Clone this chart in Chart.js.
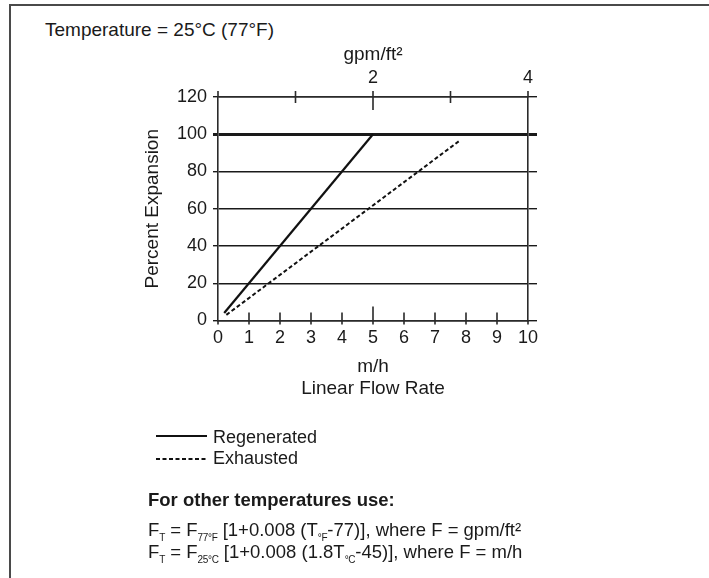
<!DOCTYPE html>
<html><head><meta charset="utf-8">
<script src="https://cdn.jsdelivr.net/npm/chart.js@4/dist/chart.umd.min.js"></script>
<style>
html,body{margin:0;padding:0;background:#fff;}
body{width:709px;height:578px;position:relative;overflow:hidden;font-family:"Liberation Sans",Arial,sans-serif;color:#1a1a1a;}
#frame{position:absolute;left:9px;top:4px;width:720px;height:600px;border-top:2.5px solid #4a4a4a;border-left:2.5px solid #4a4a4a;}
#wrap{position:absolute;left:0;top:0;width:709px;height:400px;}
.t{position:absolute;white-space:nowrap;line-height:22px;}
.s{font-size:10px;position:relative;top:5px;letter-spacing:-0.3px;}
#leg{position:absolute;left:0;top:0;}
</style></head>
<body>
<div id="frame"></div>
<div class="t" style="left:45px;top:19px;font-size:19px;">Temperature = 25°C (77°F)</div>
<div id="wrap"><canvas id="c"></canvas></div>
<svg id="leg" width="709" height="578">
  <line x1="156" y1="436" x2="207" y2="436" stroke="#111" stroke-width="2"/>
  <line x1="156" y1="459" x2="207" y2="459" stroke="#111" stroke-width="2" stroke-dasharray="4 2.5"/>
</svg>
<div class="t" style="left:213px;top:426px;font-size:18px;">Regenerated</div>
<div class="t" style="left:213px;top:447px;font-size:18px;">Exhausted</div>
<div class="t" style="left:148px;top:489px;font-size:18.5px;font-weight:bold;">For other temperatures use:</div>
<div class="t" style="left:148px;top:519px;font-size:18.5px;">F<span class="s">T</span> = F<span class="s">77°F</span> [1+0.008 (T<span class="s">°F</span>-77)], where F = gpm/ft²</div>
<div class="t" style="left:148px;top:541px;font-size:18.5px;">F<span class="s">T</span> = F<span class="s">25°C</span> [1+0.008 (1.8T<span class="s">°C</span>-45)], where F = m/h</div>
<script>
// ---- data ----
const flowMH = [0,1,2,3,4,5,6,7,8,9,10];          // bottom axis ticks (m/h)
const flowGPM = [0,1,2,3,4];                      // top axis ticks (gpm/ft²)
const flowGPMLabels = ['', '', '2', '', '4'];
const expansionTicks = [0,20,40,60,80,100,120];
const regenX = [0.2, 5.0];
const regenY = [4, 100];
const exhaustX = [0.27, 7.83];
const exhaustY = [3, 97];

const FONT = '"Liberation Sans", Arial, sans-serif';
const INK = '#1a1a1a';
const AX = '#2a2a2a';

const toPts = (xs, ys) => xs.map((x, i) => ({x, y: ys[i]}));

const crossTicks = {
  id: 'crossTicks',
  afterDraw(chart) {
    const {ctx, chartArea: a, scales} = chart;
    ctx.save();
    ctx.strokeStyle = AX;
    ctx.lineWidth = 1.6;
    ctx.beginPath();
    flowMH.forEach(v => {
      const px = scales.x.getPixelForValue(v);
      const up = v === 5 ? 14 : (v === 0 || v === 10 ? 0 : 8);
      ctx.moveTo(px, a.bottom - up);
      ctx.lineTo(px, a.bottom + 4);
    });
    flowGPM.forEach(v => {
      const px = scales.x2.getPixelForValue(v);
      const down = v === 2 ? 13 : (v === 0 || v === 4 ? 0 : 6);
      ctx.moveTo(px, a.top - 6);
      ctx.lineTo(px, a.top + down);
    });
    ctx.stroke();
    ctx.restore();
  }
};

const gridW = c => (c.tick && c.tick.value === 100) ? 3 : 1.4;

new Chart(document.getElementById('c'), {
  type: 'line',
  data: {
    datasets: [
      {label: 'Regenerated', data: toPts(regenX, regenY), xAxisID: 'x', yAxisID: 'y',
       borderColor: '#111', borderWidth: 2.2, pointRadius: 0, fill: false, tension: 0},
      {label: 'Exhausted', data: toPts(exhaustX, exhaustY), xAxisID: 'x', yAxisID: 'y',
       borderColor: '#111', borderWidth: 2, borderDash: [4, 2.5], pointRadius: 0, fill: false, tension: 0}
    ]
  },
  options: {
    responsive: true, maintainAspectRatio: false, animation: false, devicePixelRatio: 1,
    layout: {padding: {left: 140, right: 100, top: 36, bottom: 0}},
    plugins: {legend: {display: false}, tooltip: {enabled: false}},
    scales: {
      x: {
        type: 'linear', position: 'bottom', min: 0, max: 10,
        afterBuildTicks: s => { s.ticks = flowMH.map(v => ({value: v})); },
        ticks: {color: INK, font: {family: FONT, size: 18}, padding: 7, maxRotation: 0, autoSkip: false},
        grid: {display: false, drawTicks: false},
        border: {display: true, color: AX, width: 1.6},
        title: {display: true, text: ['m/h', 'Linear Flow Rate'], color: INK,
                font: {family: FONT, size: 19, lineHeight: 1.16}, padding: {top: 0, bottom: 0}},
        afterFit: s => { s.height = 79.5; }
      },
      x2: {
        type: 'linear', position: 'top', min: 0, max: 4,
        afterBuildTicks: s => { s.ticks = flowGPM.map(v => ({value: v})); },
        ticks: {color: INK, font: {family: FONT, size: 18}, padding: 8, maxRotation: 0, autoSkip: false,
                callback: (v, i) => flowGPMLabels[flowGPM.indexOf(v)] ?? ''},
        grid: {display: false, drawTicks: false},
        border: {display: true, color: AX, width: 1.6},
        title: {display: true, text: 'gpm/ft²', color: INK, font: {family: FONT, size: 19}, padding: {top: 7, bottom: 0}},
        afterFit: s => { s.height = 61; }
      },
      y: {
        type: 'linear', position: 'left', min: 0, max: 120,
        afterBuildTicks: s => { s.ticks = expansionTicks.map(v => ({value: v})); },
        ticks: {color: INK, font: {family: FONT, size: 18}, padding: 6},
        grid: {color: '#1a1a1a', lineWidth: gridW, drawTicks: true, tickLength: 5},
        border: {display: true, color: AX, width: 1.6},
        title: {display: true, text: 'Percent Expansion', color: INK, font: {family: FONT, size: 19}, padding: {top: 1, bottom: 0}},
        afterFit: s => { s.width = 78; }
      },
      y2: {
        type: 'linear', position: 'right', min: 0, max: 120,
        afterBuildTicks: s => { s.ticks = expansionTicks.map(v => ({value: v})); },
        ticks: {display: false},
        grid: {color: '#1a1a1a', lineWidth: gridW, drawOnChartArea: false, drawTicks: true, tickLength: 9},
        border: {display: true, color: AX, width: 1.6},
        afterFit: s => { s.width = 81; }
      }
    }
  },
  plugins: [crossTicks]
});
</script>
</body></html>
